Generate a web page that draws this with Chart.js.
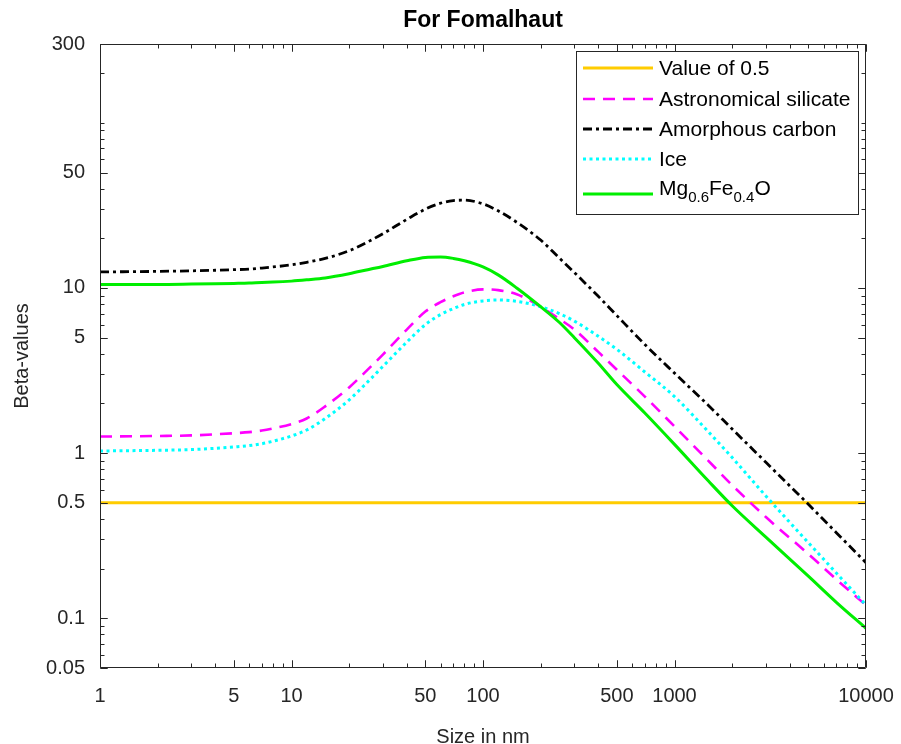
<!DOCTYPE html>
<html><head><meta charset="utf-8">
<script src="https://cdn.jsdelivr.net/npm/chart.js@4/dist/chart.umd.min.js"></script>
<style>html,body{margin:0;padding:0;background:#fff;}canvas{display:block;}</style>
</head><body>
<canvas id="c" width="901" height="744"></canvas>
<script>
// ---- data ----
const sizes    = [1, 2, 3, 4, 5, 6, 7, 8, 10, 12, 15, 20, 25, 30, 40, 50, 60, 70, 80, 100, 120, 150, 200, 250, 300, 400, 500, 700, 1000, 1500, 2000, 3000, 5000, 7000, 10000];
const halfSizes  = [1, 10000];
const halfValues = [0.5, 0.5];
const silicate = [1.26, 1.27, 1.28, 1.30, 1.32, 1.34, 1.37, 1.41, 1.50, 1.62, 1.92, 2.5, 3.2, 3.95, 5.6, 7.2, 8.2, 8.9, 9.4, 9.8, 9.7, 9.15, 7.7, 6.5, 5.6, 4.1, 3.2, 2.2, 1.45, 0.9, 0.64, 0.41, 0.245, 0.172, 0.12];
const carbon   = [12.5, 12.6, 12.7, 12.8, 12.9, 13.0, 13.2, 13.4, 13.8, 14.3, 15.1, 16.8, 19, 21.3, 26, 30, 32.6, 33.8, 34, 32.3, 29.3, 25, 19.5, 15.2, 12.4, 8.9, 6.8, 4.55, 3.05, 1.95, 1.4, 0.88, 0.49, 0.33, 0.217];
const ice      = [1.03, 1.04, 1.05, 1.07, 1.09, 1.11, 1.14, 1.18, 1.27, 1.38, 1.62, 2.1, 2.7, 3.35, 4.7, 6.0, 6.9, 7.5, 7.95, 8.35, 8.45, 8.3, 7.7, 7.0, 6.3, 5.1, 4.25, 3.1, 2.2, 1.35, 0.94, 0.55, 0.287, 0.188, 0.12];
const mgfeo    = [10.5, 10.5, 10.55, 10.6, 10.65, 10.7, 10.8, 10.85, 11.0, 11.2, 11.5, 12.2, 12.9, 13.5, 14.6, 15.3, 15.4, 15.1, 14.6, 13.4, 12.0, 10.0, 7.7, 6.2, 5.0, 3.5, 2.6, 1.75, 1.13, 0.68, 0.48, 0.31, 0.18, 0.125, 0.087];
const xTicks = [1, 5, 10, 50, 100, 500, 1000, 10000];
const xTickLabels = ['1', '5', '10', '50', '100', '500', '1000', '10000'];
const yTicks = [0.05, 0.1, 0.5, 1, 5, 10, 50, 300];
const yTickLabels = ['0.05', '0.1', '0.5', '1', '5', '10', '50', '300'];
const seriesNames = ['Value of 0.5', 'Astronomical silicate', 'Amorphous carbon', 'Ice', 'Mg0.6Fe0.4O'];

const FONT = "'Liberation Sans', Arial, Helvetica, sans-serif";
const AX = '#262626';
const pts = (xs, ys) => xs.map((x, i) => ({x: x, y: ys[i]}));

const styles = [
  {color: '#ffcc00', dash: [], width: 3, order: 5},
  {color: '#ff00ff', dash: [12, 8], width: 2.6, order: 4},
  {color: '#000000', dash: [9, 4, 3, 4], width: 2.8, order: 3},
  {color: '#00ffff', dash: [3, 3.5], width: 3, order: 2},
  {color: '#00ee00', dash: [], width: 3, order: 1}
];
const seriesData = [pts(halfSizes, halfValues), pts(sizes, silicate), pts(sizes, carbon), pts(sizes, ice), pts(sizes, mgfeo)];

const datasets = seriesNames.map((n, i) => ({
  label: n,
  data: seriesData[i],
  borderColor: styles[i].color,
  backgroundColor: styles[i].color,
  borderDash: styles[i].dash,
  borderWidth: styles[i].width,
  order: styles[i].order,
  pointRadius: 0,
  fill: false,
  cubicInterpolationMode: 'monotone'
}));

function minorVals(min, max) {
  const out = [];
  for (let e = -3; e <= 5; e++) {
    for (let m = 1; m <= 9; m++) {
      const v = +(m * Math.pow(10, e)).toPrecision(6);
      if (v >= min * 0.9999 && v <= max * 1.0001) out.push(v);
    }
  }
  return out;
}

const boxPlugin = {
  id: 'matlabBox',
  afterDatasetsDraw(chart) {
    const {ctx, chartArea: a, scales: {x, y}} = chart;
    ctx.save();
    ctx.strokeStyle = AX;
    ctx.lineWidth = 1;
    ctx.setLineDash([]);
    const L = Math.round(a.left) + 0.5, R = Math.round(a.right) - 0.5;
    const T = Math.round(a.top) + 0.5, B = Math.round(a.bottom) - 0.5;
    ctx.beginPath();
    ctx.rect(L, T, R - L, B - T);
    ctx.stroke();
    ctx.beginPath();
    minorVals(1, 10000).concat(xTicks).forEach(v => {
      const p = Math.round(x.getPixelForValue(v)) + 0.5;
      const len = xTicks.includes(v) ? 7 : 4;
      ctx.moveTo(p, B); ctx.lineTo(p, B - len);
      ctx.moveTo(p, T); ctx.lineTo(p, T + len);
    });
    minorVals(0.05, 300).concat(yTicks).forEach(v => {
      const p = Math.round(y.getPixelForValue(v)) + 0.5;
      const len = yTicks.includes(v) ? 7 : 4;
      ctx.moveTo(L, p); ctx.lineTo(L + len, p);
      ctx.moveTo(R, p); ctx.lineTo(R - len, p);
    });
    ctx.stroke();
    ctx.restore();
  },
  afterDraw(chart) {
    const {ctx} = chart;
    ctx.save();
    const bx = 576.5, by = 51.5, bw = 282, bh = 163;
    ctx.fillStyle = '#ffffff';
    ctx.fillRect(bx, by, bw, bh);
    ctx.strokeStyle = AX;
    ctx.lineWidth = 1;
    ctx.setLineDash([]);
    ctx.strokeRect(bx, by, bw, bh);
    const rows = [68, 99, 129, 159, 194];
    const lx0 = 583, lx1 = 653, tx = 659;
    ctx.textBaseline = 'middle';
    ctx.textAlign = 'left';
    seriesNames.forEach((n, i) => {
      const yy = rows[i];
      ctx.beginPath();
      ctx.strokeStyle = styles[i].color;
      ctx.lineWidth = styles[i].width;
      ctx.setLineDash(styles[i].dash);
      ctx.moveTo(lx0, yy); ctx.lineTo(lx1, yy);
      ctx.stroke();
      ctx.setLineDash([]);
      ctx.fillStyle = '#000000';
      if (i === 4) {
        const big = '21px ' + FONT, small = '15px ' + FONT;
        const parts = [['Mg', big, -5], ['0.6', small, 4], ['Fe', big, -5], ['0.4', small, 4], ['O', big, -5]];
        let cx = tx;
        parts.forEach(([t, f, dy]) => {
          ctx.font = f;
          ctx.fillText(t, cx, yy + dy);
          cx += ctx.measureText(t).width;
        });
      } else {
        ctx.font = '21px ' + FONT;
        ctx.fillText(n, tx, yy + 1);
      }
    });
    ctx.restore();
  }
};

new Chart(document.getElementById('c'), {
  type: 'line',
  data: {datasets: datasets},
  options: {
    responsive: false,
    animation: false,
    layout: {padding: {left: 0, right: 35, top: 0, bottom: 0}},
    plugins: {
      legend: {display: false},
      tooltip: {enabled: false},
      title: {
        display: true,
        fullSize: false,
        text: 'For Fomalhaut',
        color: '#000000',
        font: {family: FONT, size: 23, weight: 'bold', lineHeight: 1.2},
        padding: {top: 7, bottom: 9.4}
      }
    },
    scales: {
      x: {
        type: 'logarithmic',
        min: 1, max: 10000,
        afterBuildTicks: s => { s.ticks = xTicks.map(v => ({value: v})); },
        afterFit: s => { s.height = 76; s.paddingLeft = 0; s.paddingRight = 0; },
        ticks: {
          autoSkip: false, maxRotation: 0, minRotation: 0,
          color: AX, padding: 16,
          font: {family: FONT, size: 20},
          callback: (v, i) => xTickLabels[i]
        },
        grid: {display: false, drawTicks: false},
        border: {display: false},
        title: {display: true, text: 'Size in nm', color: AX, font: {family: FONT, size: 20}, padding: {top: 0, bottom: -5}}
      },
      y: {
        type: 'logarithmic',
        min: 0.05, max: 300,
        afterBuildTicks: s => { s.ticks = yTicks.map(v => ({value: v})); },
        afterFit: s => { s.width = 100; },
        ticks: {
          autoSkip: false,
          color: AX, padding: 15,
          font: {family: FONT, size: 20},
          callback: (v, i) => yTickLabels[i]
        },
        grid: {display: false, drawTicks: false},
        border: {display: false},
        title: {display: true, text: 'Beta-values', color: AX, font: {family: FONT, size: 20}, padding: {top: 10, bottom: 0}}
      }
    }
  },
  plugins: [boxPlugin]
});
</script>
</body></html>
